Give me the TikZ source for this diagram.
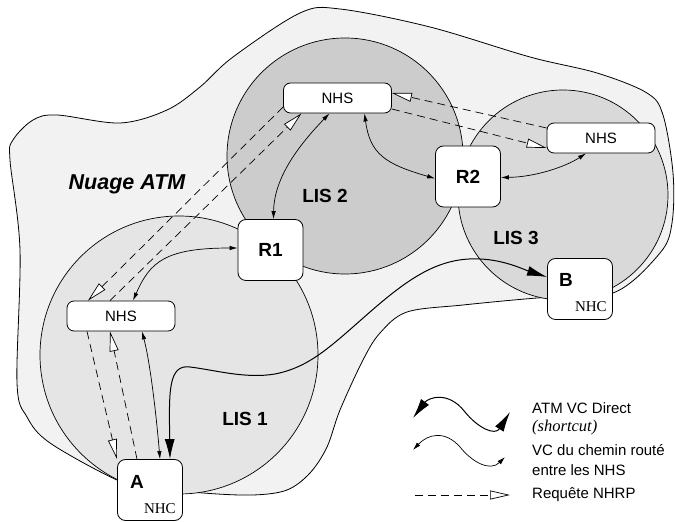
\documentclass[tikz,border=0pt]{standalone}
\usepackage{fontspec}
\setmainfont{Liberation Serif}
\setsansfont{Liberation Sans}
\usepackage{tikz}
\usetikzlibrary{arrows.meta}
\definecolor{cloudgray}{RGB}{242,242,242}
\definecolor{lisone}{RGB}{229,229,229}
\definecolor{listwo}{RGB}{204,204,204}
\definecolor{listhree}{RGB}{217,217,217}
\tikzset{
  lisarea/.style={draw, line width=0.7pt},
  lislabel/.style={font=\sffamily\bfseries\fontsize{19}{22}\selectfont},
  nhsbox/.style={draw, fill=white, rounded corners=7pt, line width=0.8pt,
    minimum width=108pt, minimum height=30pt, inner sep=0pt,
    font=\sffamily\fontsize{15}{18}\selectfont},
  routerbox/.style={draw, fill=white, rounded corners=8pt, line width=0.8pt,
    minimum width=65pt, minimum height=61pt, inner sep=0pt,
    font=\sffamily\bfseries\fontsize{19}{22}\selectfont},
  hostbox/.style={routerbox},
  hostname/.style={font=\sffamily\bfseries\fontsize{19}{22}\selectfont, inner sep=0pt},
  nhclabel/.style={font=\fontsize{15}{18}\selectfont, inner sep=0pt},
  legendtext/.style={font=\sffamily\fontsize{15}{18}\selectfont, anchor=west, inner sep=0pt},
  request/.style={line width=0.7pt, dash pattern=on 8pt off 5pt,
    -{Triangle[length=20pt,width=9pt,fill=white,line width=0.7pt]}},
  routedvc/.style={line width=0.7pt,
    {Latex[length=8pt,width=4.5pt]}-{Latex[length=8pt,width=4.5pt]}},
  directvc/.style={line width=1pt,
    {Latex[length=20pt,width=10pt]}-{Latex[length=20pt,width=10pt]}}
}

\begin{document}
\begin{tikzpicture}[x=1pt,y=1pt]
\useasboundingbox (0,0) rectangle (675,522);
\fill[white] (0,0) rectangle (675,522);

% nuage ATM
\draw[fill=cloudgray, line width=0.8pt] plot[smooth cycle, tension=0.55] coordinates {
  (13,382) (33,402) (57,407) (120,399) (167,412) (200,435) (233,465) (300,509)
  (340,513) (430,495) (530,465) (597,449) (647,429) (663,407) (673,349)
  (672,299) (660,269) (613,229) (537,224) (463,217) (407,210) (380,189)
  (363,162) (340,112) (327,75) (310,49) (287,32) (253,27) (203,29) (150,35)
  (117,42) (50,79) (27,105) (17,139) (20,272) (10,362)};
\node[font=\sffamily\bfseries\itshape\fontsize{21.5}{24}\selectfont] (nuage) at (127,338) {Nuage ATM};

% LIS
\draw[lisarea, fill=lisone] (179,167) circle (139);
\draw[lisarea, fill=listwo] (345,366) circle (118);
\draw[lisarea, fill=listhree] (563,327) circle (105);
\node[lislabel] (lis1) at (245,103) {LIS 1};
\node[lislabel] (lis2) at (325,326) {LIS 2};
\node[lislabel] (lis3) at (516,284) {LIS 3};

% serveurs, routeurs, clients
\node[nhsbox] (nhsT) at (337.5,424) {NHS};
\node[nhsbox] (nhsR) at (601,384) {NHS};
\node[nhsbox] (nhsL) at (121,206) {NHS};
\node[routerbox] (R1) at (270.5,272) {R1};
\node[routerbox] (R2) at (468,345.5) {R2};
\node[hostbox] (A) at (150,32) {};
\node[hostbox] (B) at (580,233) {};
\node[hostname] (Aname) at ([xshift=20pt,yshift=-23pt]A.north west) {A};
\node[nhclabel] (Anhc) at ([xshift=-23pt,yshift=12pt]A.south east) {NHC};
\node[hostname] (Bname) at ([xshift=19pt,yshift=-22pt]B.north west) {B};
\node[nhclabel] (Bnhc) at ([xshift=-22pt,yshift=13pt]B.south east) {NHC};

% requetes NHRP
\draw[request] ([xshift=-34pt]nhsL.south) -- ([xshift=-33pt]A.north);
\draw[request] ([xshift=-13pt]A.north) -- ([xshift=-11pt]nhsL.south);
\draw[request] ([xshift=-11pt]nhsL.north) -- ([xshift=-36pt]nhsT.south);
\draw[request] ([yshift=-9pt]nhsT.west) -- ([xshift=-33pt]nhsL.north);
\draw[request] ([yshift=10pt]nhsR.west) -- ([yshift=5pt]nhsT.east);
\draw[request] ([yshift=-11pt]nhsT.east) -- ([yshift=-10pt]nhsR.west);

% VC routes
\draw[routedvc] ([xshift=21pt]nhsL.south) .. controls (150,160) and (156,110) .. ([xshift=10pt]A.north);
\draw[routedvc] ([xshift=12pt]nhsL.north) .. controls (150,260) and (165,274) .. ([yshift=2pt]R1.west);
\draw[routedvc] ([xshift=3pt]R1.north) .. controls (274,345) and (300,378) .. ([xshift=-8pt]nhsT.south);
\draw[routedvc] ([xshift=27pt]nhsT.south) .. controls (370,368) and (385,358) .. ([yshift=-2pt]R2.west);
\draw[routedvc] ([yshift=-1pt]R2.east) .. controls (535,345) and (565,355) .. ([xshift=-15pt]nhsR.south);

% VC direct
\draw[directvc] ([xshift=20pt]A.north) .. controls (169,130) and (168,158) .. (190,155)
  .. controls (215,152) and (245,143) .. (275,148)
  .. controls (310,155) and (330,175) .. (370,210)
  .. controls (410,245) and (440,265) .. (480,263)
  .. controls (505,262) and (525,252) .. ([yshift=12pt]B.west);

% legende
\coordinate (leg1a) at (413,104);
\coordinate (leg1b) at (510,110);
\coordinate (leg2a) at (413,72);
\coordinate (leg2b) at (505,65);
\coordinate (leg3a) at (415,27);
\coordinate (leg3b) at (510,27);
\draw[directvc] (leg1a) .. controls (428,124) and (448,132) .. (465,110)
  .. controls (478,94) and (495,86) .. (leg1b);
\draw[routedvc] (leg2a) .. controls (428,88) and (445,92) .. (460,75)
  .. controls (472,60) and (490,50) .. (leg2b);
\draw[request] (leg3a) -- (leg3b);
\node[legendtext] (txtdirect) at (532,114) {ATM VC Direct};
\node[legendtext, font=\itshape\fontsize{16.5}{19}\selectfont] (txtshort) at (532,94) {(shortcut)};
\node[legendtext] (txtroute) at (532,72) {VC du chemin routé};
\node[legendtext] (txtentre) at (532,52) {entre les NHS};
\node[legendtext] (txtreq) at (532,27) {Requête NHRP};
\end{tikzpicture}
\end{document}
